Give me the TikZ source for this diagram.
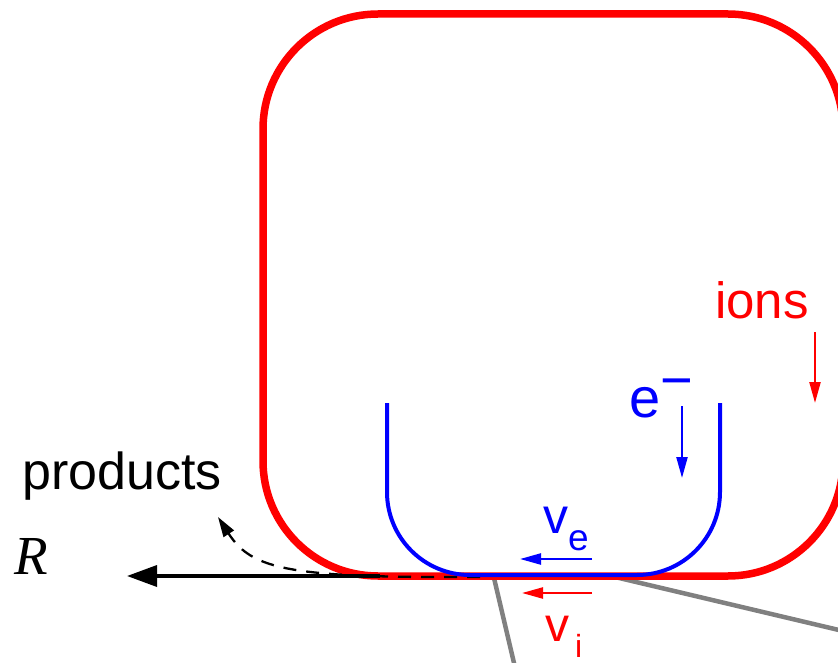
\documentclass[tikz,border=0pt]{standalone}
\usepackage{fontspec}
\setmainfont{Liberation Sans}
\newfontfamily\serifR{Liberation Serif}
\usetikzlibrary{arrows.meta}
\begin{document}
\begin{tikzpicture}[x=1pt,y=-1pt,
  lbl/.style={inner sep=0pt,anchor=base west},
  thinarrow/.style={line width=2.3pt,-{Triangle[length=21pt,width=11pt]}},
  bigarrow/.style={line width=3.5pt,-{Triangle[length=30pt,width=21pt]}},
  grayline/.style={line width=4.5pt,color=black!50}]
\useasboundingbox (0,0) rectangle (838,663);
\clip (0,0) rectangle (838,663);
% gray lines
\coordinate (g1a) at (494,578);
\coordinate (g1b) at (518,680);
\coordinate (g2a) at (615,577);
\coordinate (g2b) at (860,635);
\draw[grayline] (g1a) -- (g1b);
\draw[grayline] (g2a) -- (g2b);
% red rounded box
\draw[red,line width=7.5pt,rounded corners=115pt] (263,14) rectangle (843,576);
% black arrow to R
\coordinate (rs) at (380,576);
\coordinate (rt) at (127,576);
\draw[bigarrow] (rs) -- (rt);
% dashed products path
\coordinate (ps) at (480,577);
\coordinate (pt) at (218,517);
\draw[line width=2.3pt,dash pattern=on 13pt off 10pt,-{Triangle[length=20pt,width=12pt]}]
  (ps) .. controls (290,578) and (252,570) .. (pt);
% blue U
\draw[blue,line width=4pt,rounded corners=83pt] (387,403) -- (387,575) -- (720,575) -- (720,403);
% labels
\node[lbl,font=\fontsize{52}{52}\selectfont] (products) at (22,489) {products};
\node[lbl,font=\serifR\itshape\fontsize{55}{55}\selectfont] (R) at (14,574) {R};
\node[lbl,red,font=\fontsize{51}{51}\selectfont] (ions) at (715,318) {ions};
\node[lbl,blue,font=\fontsize{56}{56}\selectfont] (em) at (629,417) {e\raisebox{18pt}{−}};
\node[lbl,blue,font=\fontsize{50}{50}\selectfont] (ve) at (543,533) {v\raisebox{-17pt}{\fontsize{37}{37}\selectfont e}};
\node[lbl,red,font=\fontsize{48}{48}\selectfont] (vi) at (545,641) {v\hspace{6pt}\raisebox{-16pt}{\fontsize{32}{32}\selectfont i}};
% small arrows
\coordinate (ia) at (815,332);
\coordinate (ib) at (815,403);
\draw[red,thinarrow] (ia) -- (ib);
\coordinate (ea) at (682,406);
\coordinate (eb) at (682,478);
\draw[blue,thinarrow] (ea) -- (eb);
\coordinate (vea) at (592,559);
\coordinate (veb) at (520,559);
\draw[blue,thinarrow] (vea) -- (veb);
\coordinate (via) at (592,593);
\coordinate (vib) at (522,593);
\draw[red,thinarrow] (via) -- (vib);
\end{tikzpicture}
\end{document}
